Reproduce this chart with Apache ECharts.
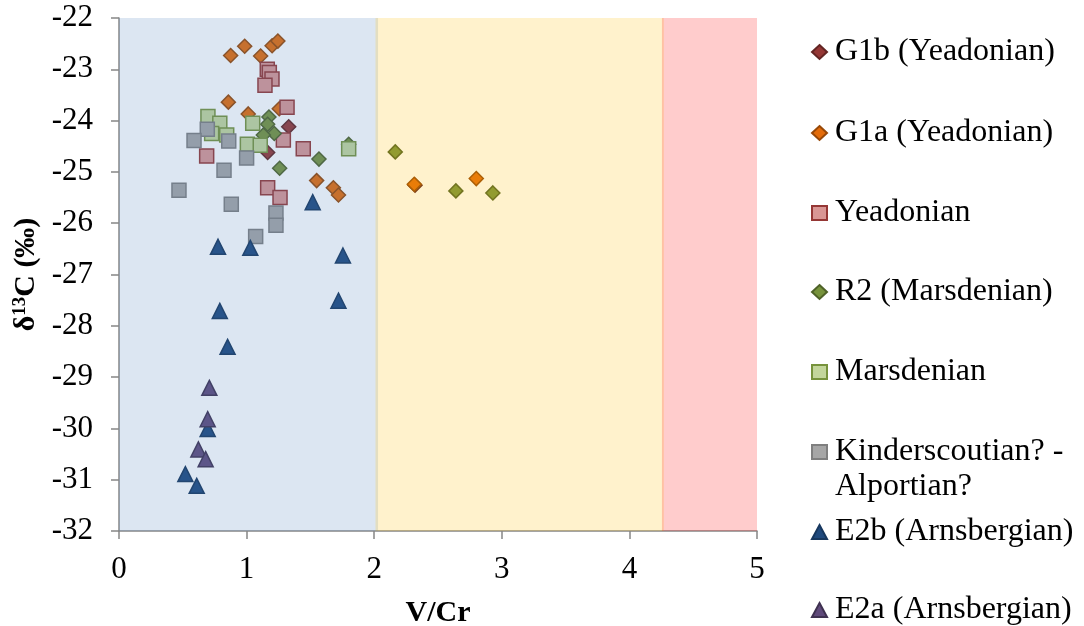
<!DOCTYPE html>
<html><head><meta charset="utf-8">
<script src="https://cdn.jsdelivr.net/npm/echarts@6/dist/echarts.min.js"></script>
<style>html,body{margin:0;padding:0;background:#fff}#c{width:1084px;height:626px}</style>
</head><body><div id="c"></div>
<script>
// ---- data ----
const seriesNames = ['G1b (Yeadonian)','G1a (Yeadonian)','Yeadonian','R2 (Marsdenian)','Marsdenian','Kinderscoutian? - Alportian?','E2b (Arnsbergian)','E2a (Arnsbergian)'];
const g1bX = [1.33, 1.165, 2.32];
const g1bY = [-24.12, -24.62, -25.26];
const g1aX = [0.875, 0.985, 1.11, 1.20, 1.245, 0.857, 1.013, 1.256, 1.549, 1.68, 1.72, 2.314, 2.80];
const g1aY = [-22.73, -22.55, -22.74, -22.54, -22.45, -23.64, -23.87, -23.77, -25.17, -25.31, -25.45, -25.24, -25.13];
const yeaX = [1.162, 1.178, 1.199, 1.144, 1.317, 1.288, 1.444, 0.687, 1.165, 1.262];
const yeaY = [-23.0, -23.06, -23.19, -23.31, -23.74, -24.38, -24.55, -24.69, -25.31, -25.5];
const r2X = [1.175, 1.165, 1.217, 1.131, 1.567, 1.259, 1.80, 2.165, 2.64, 2.93];
const r2Y = [-23.93, -24.07, -24.25, -24.28, -24.75, -24.93, -24.46, -24.61, -25.37, -25.41];
const marX = [0.697, 0.79, 0.726, 0.844, 1.048, 1.006, 1.107, 1.80];
const marY = [-23.92, -24.05, -24.25, -24.28, -24.05, -24.46, -24.48, -24.55];
const kinX = [0.692, 0.588, 0.86, 1.0, 0.823, 0.47, 0.88, 1.23, 1.23, 1.071];
const kinY = [-24.17, -24.39, -24.40, -24.73, -24.97, -25.36, -25.63, -25.80, -26.04, -26.26];
const e2bX = [1.518, 0.776, 1.029, 1.755, 1.72, 0.79, 0.851, 0.695, 0.52, 0.609];
const e2bY = [-25.59, -26.46, -26.48, -26.63, -27.51, -27.71, -28.41, -30.01, -30.89, -31.12];
const e2aX = [0.708, 0.695, 0.622, 0.679];
const e2aY = [-29.21, -29.82, -30.41, -30.60];
// background zones (V/Cr ranges)
const zoneStart = [0, 2.01, 4.255];
const zoneEnd = [2.03, 4.27, 5];
const zoneColors = ['rgba(79,129,189,0.2)', 'rgba(255,192,0,0.2)', 'rgba(255,0,0,0.2)'];
const xMin = 0, xMax = 5, yMin = -32, yMax = -22;

const zip = (xs, ys) => xs.map((x, i) => [x, ys[i]]);
const FONT = '"Liberation Serif", "Times New Roman", serif';

const styles = [
  {sym:'diamond', size:14, fill:'#953735', border:'#632523'},
  {sym:'diamond', size:14, fill:'#E46C0A', border:'#984807'},
  {sym:'rect', size:14, fill:'#D99694', border:'#953735'},
  {sym:'diamond', size:14, fill:'#77933C', border:'#4F6228'},
  {sym:'rect', size:14, fill:'#C3D69B', border:'#77933C'},
  {sym:'rect', size:14, fill:'#A6A6A6', border:'#7F7F7F'},
  {sym:'triangle', size:15, fill:'#1F497D', border:'#17375E'},
  {sym:'triangle', size:15, fill:'#604A7B', border:'#3F3151'}
];
const datasets = [zip(g1bX,g1bY), zip(g1aX,g1aY), zip(yeaX,yeaY), zip(r2X,r2Y), zip(marX,marY), zip(kinX,kinY), zip(e2bX,e2bY), zip(e2aX,e2aY)];

const series = datasets.map((d, i) => ({
  type: 'scatter', name: seriesNames[i], data: d,
  symbol: styles[i].sym, symbolSize: styles[i].size,
  itemStyle: {color: styles[i].fill, borderColor: styles[i].border, borderWidth: 1.5, opacity: 1},
  emphasis: {disabled: true}, z: 2
}));
series.push({
  type: 'custom', name: 'zones', silent: true, z: 10,
  data: zoneStart.map((s, i) => [s, zoneEnd[i], i]),
  renderItem: function (params, api) {
    const p0 = api.coord([api.value(0), yMax]);
    const p1 = api.coord([api.value(1), yMin]);
    return {type: 'rect', shape: {x: p0[0], y: p0[1], width: p1[0]-p0[0], height: p1[1]-p0[1]},
            style: {fill: zoneColors[api.value(2)]}};
  }
});

const legendTops = [31, 112, 192, 271, 351, 431, 511, 589];
const legends = seriesNames.map((n, i) => ({
  left: 806, top: legendTops[i], orient: 'vertical', data: [n], selectedMode: false,
  itemWidth: 15, itemHeight: 14,
  formatter: (name) => name === seriesNames[5] ? 'Kinderscoutian? -' : name,
  textStyle: {fontFamily: FONT, fontSize: 32, color: '#000', padding: [0,0,0,3]}
}));

const chart = echarts.init(document.getElementById('c'), null, {renderer: 'canvas'});
chart.setOption({
  animation: false,
  backgroundColor: '#fff',
  grid: {left: 119, top: 18, width: 638, height: 513, containLabel: false, outerBoundsMode: 'none'},
  legend: legends,
  graphic: [{type: 'text', left: 835, top: 471, style: {text: 'Alportian?', font: '32px ' + FONT, fill: '#000'}}],
  xAxis: {
    type: 'value', min: xMin, max: xMax, interval: 1,
    name: 'V/Cr', nameLocation: 'middle', nameGap: 67,
    nameTextStyle: {fontFamily: FONT, fontSize: 30, fontWeight: 'bold', color: '#000'},
    axisLine: {show: true, lineStyle: {color: '#868686', width: 1.5}},
    axisTick: {show: true, length: 8, lineStyle: {color: '#868686', width: 1.5}},
    axisLabel: {fontFamily: FONT, fontSize: 31, color: '#000', margin: 23},
    splitLine: {show: false}
  },
  yAxis: {
    type: 'value', min: yMin, max: yMax, interval: 1,
    name: '{a|δ}{b|13}{a|C (‰)}', nameLocation: 'middle', nameGap: 77, nameRotate: 90,
    nameTextStyle: {fontFamily: FONT, fontSize: 30, fontWeight: 'bold', color: '#000',
      rich: {a: {fontFamily: FONT, fontSize: 30, fontWeight: 'bold', color: '#000'},
             b: {fontFamily: FONT, fontSize: 19, fontWeight: 'bold', color: '#000', verticalAlign: 'top', padding: [0,0,12,0]}}},
    axisLine: {show: true, lineStyle: {color: '#868686', width: 1.5}},
    axisTick: {show: true, length: 8, lineStyle: {color: '#868686', width: 1.5}},
    axisLabel: {fontFamily: FONT, fontSize: 31, color: '#000', margin: 26},
    splitLine: {show: false}
  },
  series: series
});
</script></body></html>
